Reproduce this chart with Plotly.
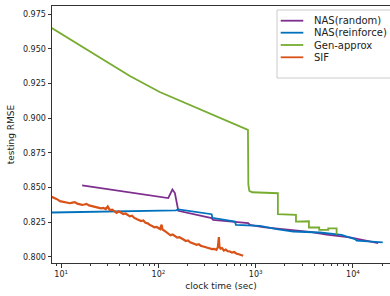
import plotly.graph_objects as go

# ---------------- data ----------------
nas_random_x = [16.4, 40.1, 126, 139, 147.5, 160, 352, 365, 837, 871, 1186, 2249, 3610, 5360, 9310, 18200]
nas_random_y = [0.8514, 0.8475, 0.8423, 0.8485, 0.8459, 0.8331, 0.8279, 0.8266, 0.8242, 0.8230,
                0.8214, 0.8193, 0.8180, 0.8160, 0.8140, 0.8099]

nas_reinforce_x = [8.0, 151, 160, 352, 358, 611, 626, 1107, 1642, 2432, 4572, 6265, 7650, 8950,
                   10490, 10920, 16190, 20230]
nas_reinforce_y = [0.8319, 0.8335, 0.8342, 0.8307, 0.8281, 0.8254, 0.8230, 0.8223, 0.8199, 0.8182,
                   0.8175, 0.8163, 0.8158, 0.8142, 0.8127, 0.8117, 0.8108, 0.8103]

gen_approx_x = [8.0, 24.9, 50.8, 103, 210, 428, 832, 840, 860, 920, 1690, 1690, 2595, 2595,
                3524, 3524, 4498, 4498, 5570, 5570, 6790, 6790]
gen_approx_y = [0.9649, 0.9440, 0.9303, 0.9188, 0.9095, 0.9001, 0.8915, 0.8520, 0.8475, 0.8465,
                0.8458, 0.8307, 0.8302, 0.8254, 0.8256, 0.8211, 0.8211, 0.8194, 0.8194, 0.8204,
                0.8204, 0.8160]

sif_x = [8.0, 8.6, 9.2, 9.7, 10.3, 11.0, 11.7, 12.3, 13.0, 13.8, 14.6, 15.5, 16.4, 17.3, 18.2,
         19.3, 20.4, 21.6, 22.9, 24.2, 25.6, 27.1, 28.7, 30.1, 31.6, 33.5, 35.3, 37.1, 39.0, 41.2,
         43.5, 45.9, 48.3, 50.8, 53.6, 56.5, 59.6, 62.8, 66.2, 69.8, 73.6, 77.6, 81.8, 86.2, 90.9,
         95.8, 101, 104, 107.6, 110, 115, 121, 127, 133, 140, 148, 156, 164, 172, 181, 191, 201,
         212, 223, 235, 247, 260, 274, 289, 304, 320, 337, 355, 374, 394, 408, 414, 418, 423, 435,
         450, 470, 492, 515, 543, 570, 600, 636, 670, 705, 743]
sif_y = [0.8432, 0.8424, 0.8412, 0.8401, 0.8398, 0.8392, 0.8389, 0.8386, 0.8390, 0.8394, 0.8383,
         0.8378, 0.8374, 0.8377, 0.8381, 0.8370, 0.8366, 0.8362, 0.8358, 0.8353, 0.8349, 0.8352,
         0.8344, 0.8362, 0.8336, 0.8340, 0.8325, 0.8316, 0.8328, 0.8318, 0.8308, 0.8312, 0.8298,
         0.8291, 0.8296, 0.8280, 0.8272, 0.8263, 0.8258, 0.8262, 0.8245, 0.8241, 0.8228, 0.8222,
         0.8212, 0.8215, 0.8205, 0.8200, 0.8232, 0.8196, 0.8188, 0.8176, 0.8168, 0.8155, 0.8160,
         0.8146, 0.8138, 0.8141, 0.8130, 0.8124, 0.8114, 0.8118, 0.8104, 0.8098, 0.8092, 0.8086,
         0.8090, 0.8078, 0.8074, 0.8070, 0.8066, 0.8060, 0.8055, 0.8057, 0.8050, 0.8068, 0.8120,
         0.8142, 0.8075, 0.8058, 0.8062, 0.8045, 0.8052, 0.8040, 0.8038, 0.8030, 0.8034, 0.8022,
         0.8018, 0.8012, 0.8007]

series_names = ["NAS(random)", "NAS(reinforce)", "Gen-approx", "SIF"]
series_colors = ["#7E2F8E", "#0072BD", "#77AC30", "#D95319"]
series_widths = [1.8, 1.8, 1.8, 2.2]

x_tick_vals = [10, 100, 1000, 10000]
x_tick_text = ["10<sup>1</sup>", "10<sup>2</sup>", "10<sup>3</sup>", "10<sup>4</sup>"]
x_minor_vals = [m * 10 ** e for e in range(0, 5) for m in range(2, 10)]
y_tick_vals = [0.800, 0.825, 0.850, 0.875, 0.900, 0.925, 0.950, 0.975]

# ---------------- figure ----------------
W, H = 390, 296
L, R, T, B = 52, 0, 6, 33
FONT = "DejaVu Sans"
AX = "#333333"

fig = go.Figure()
all_x = [nas_random_x, nas_reinforce_x, gen_approx_x, sif_x]
all_y = [nas_random_y, nas_reinforce_y, gen_approx_y, sif_y]
for name, col, lw, xs, ys in zip(series_names, series_colors, series_widths, all_x, all_y):
    fig.add_trace(go.Scatter(x=xs, y=ys, mode="lines", name=name,
                             line=dict(color=col, width=lw), showlegend=False))

fig.update_layout(
    width=W, height=H,
    margin=dict(l=L, r=R, t=T, b=B, pad=0),
    paper_bgcolor="white", plot_bgcolor="white",
    font=dict(family=FONT, color="#222222", size=8),
)
fig.update_xaxes(
    type="log", range=[0.905, 4.381],
    showline=True, linecolor=AX, linewidth=1, mirror=True,
    showgrid=False, zeroline=False,
    ticks="outside", ticklen=3.5, tickwidth=0.8, tickcolor=AX,
    tickvals=x_tick_vals, ticktext=x_tick_text, tickfont=dict(size=8),
    minor=dict(tickvals=x_minor_vals, ticks="outside", ticklen=2, tickwidth=0.6, tickcolor=AX),
    title=dict(text="clock time (sec)", font=dict(size=9), standoff=4),
)
fig.update_yaxes(
    range=[0.7955, 0.9808],
    showline=True, linecolor=AX, linewidth=1, mirror=False,
    showgrid=False, zeroline=False,
    ticks="outside", ticklen=3.5, tickwidth=0.8, tickcolor=AX,
    tickvals=y_tick_vals, tickformat=".3f", tickfont=dict(size=8),
    title=dict(text="testing RMSE", font=dict(size=9), standoff=6),
)

# ---------------- legend (drawn like the matplotlib box) ----------------
pw, ph = W - L - R, H - T - B
def px(x):
    return (x - L) / pw
def py(y):
    return (H - B - y) / ph

fig.add_shape(type="rect", xref="paper", yref="paper",
              x0=px(277), x1=px(400), y0=py(78), y1=py(10),
              line=dict(color="#cccccc", width=1), fillcolor="rgba(255,255,255,0.8)", layer="above")
leg_rows = [20.7, 32.7, 45.0, 57.3]
for name, col, yy in zip(series_names, series_colors, leg_rows):
    fig.add_shape(type="line", xref="paper", yref="paper",
                  x0=px(280.7), x1=px(303.3), y0=py(yy), y1=py(yy),
                  line=dict(color=col, width=1.8), layer="above")
    fig.add_annotation(xref="paper", yref="paper", x=px(311.7), y=py(yy),
                       text=name, showarrow=False, xanchor="left", yanchor="middle",
                       font=dict(size=10, family=FONT, color="#222222"))

fig.write_html("out.html", config={"displayModeBar": False},
               post_script="document.body.style.margin='0';document.body.style.overflow='hidden';")
